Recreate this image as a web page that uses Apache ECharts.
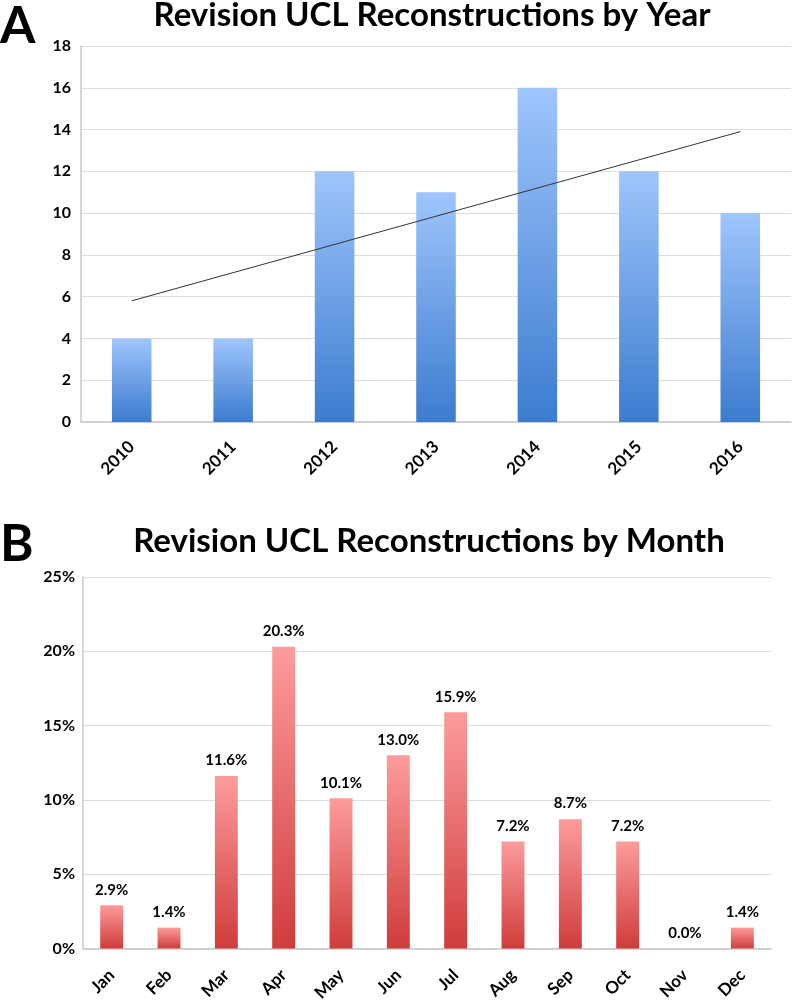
<!DOCTYPE html>
<html>
<head>
<meta charset="utf-8">
<script src="https://cdn.jsdelivr.net/npm/echarts@6/dist/echarts.min.js"></script>
<style>
html,body{margin:0;padding:0;background:#fff;}
#chart{width:792px;height:1004px;}
</style>
</head>
<body>
<div id="chart"></div>
<script>
var years = ['2010','2011','2012','2013','2014','2015','2016'];
var yearCounts = [4, 4, 12, 11, 16, 12, 10];
var trendValues = [5.8, null, null, null, null, null, 13.9];
var yearTicks = [0, 18, 2];

var months = ['Jan','Feb','Mar','Apr','May','Jun','Jul','Aug','Sep','Oct','Nov','Dec'];
var monthPercents = [2.9, 1.4, 11.6, 20.3, 10.1, 13.0, 15.9, 7.2, 8.7, 7.2, 0.0, 1.4];
var monthTicks = [0, 25, 5];

var FONT = 'Lato';
var chart = echarts.init(document.getElementById('chart'), null, {renderer:'canvas'});

var axisLabelY = {color:'#000', fontFamily:FONT, fontWeight:'bold', fontSize:16};
var axisLabelX = {color:'#000', fontFamily:FONT, fontWeight:'bold', fontSize:17, rotate:45, interval:0};

chart.setOption({
  animation:false,
  backgroundColor:'#fff',
  title:[
    {text:'A', left:0, top:1, padding:0, textStyle:{fontFamily:FONT, fontWeight:'bold', fontSize:51, color:'#000'}},
    {text:'Revision UCL Reconstructions by Year', left:432, textAlign:'center', top:-1, padding:0, textStyle:{fontFamily:FONT, fontWeight:'bold', fontSize:33, color:'#000'}},
    {text:'B', left:0, top:519, padding:0, textStyle:{fontFamily:FONT, fontWeight:'bold', fontSize:51, color:'#000'}},
    {text:'Revision UCL Reconstructions by Month', left:429, textAlign:'center', top:525, padding:0, textStyle:{fontFamily:FONT, fontWeight:'bold', fontSize:33, color:'#000'}}
  ],
  grid:[
    {left:81, top:46, width:710, height:376},
    {left:83, top:577, width:688, height:373}
  ],
  xAxis:[
    {type:'category', gridIndex:0, data:years,
     axisLine:{lineStyle:{color:'#c8c8c8', width:1.5}}, axisTick:{show:false},
     axisLabel:Object.assign({margin:22}, axisLabelX)},
    {type:'category', gridIndex:1, data:months,
     axisLine:{lineStyle:{color:'#c8c8c8', width:1.5}}, axisTick:{show:false},
     axisLabel:Object.assign({margin:24}, axisLabelX)}
  ],
  yAxis:[
    {type:'value', gridIndex:0, min:yearTicks[0], max:yearTicks[1], interval:yearTicks[2],
     axisLine:{show:true, lineStyle:{color:'#c8c8c8', width:1.5}}, axisTick:{show:false},
     splitLine:{lineStyle:{color:'#dedede', width:1}},
     axisLabel:Object.assign({margin:10}, axisLabelY)},
    {type:'value', gridIndex:1, min:monthTicks[0], max:monthTicks[1], interval:monthTicks[2],
     axisLine:{show:true, lineStyle:{color:'#c8c8c8', width:1.5}}, axisTick:{show:false},
     splitLine:{lineStyle:{color:'#dedede', width:1}},
     axisLabel:Object.assign({margin:8, formatter:'{value}%'}, axisLabelY)}
  ],
  series:[
    {type:'bar', xAxisIndex:0, yAxisIndex:0, data:yearCounts, barWidth:'39%',
     itemStyle:{color:new echarts.graphic.LinearGradient(0,0,0,1,[
       {offset:0, color:'#9fc5fc'},{offset:1, color:'#3c7ccf'}])}},
    {type:'line', xAxisIndex:0, yAxisIndex:0, data:trendValues, connectNulls:true,
     symbol:'none', lineStyle:{color:'#333', width:1}, z:5},
    {type:'bar', xAxisIndex:1, yAxisIndex:1, data:monthPercents, barWidth:'40%',
     itemStyle:{color:new echarts.graphic.LinearGradient(0,0,0,1,[
       {offset:0, color:'#fd9c9c'},{offset:1, color:'#d03c3c'}])},
     label:{show:true, position:'top', distance:8, color:'#000', fontFamily:FONT, fontWeight:'bold', fontSize:15,
       formatter:function(p){return p.value.toFixed(1)+'%';}}}
  ]
});
</script>
</body>
</html>
